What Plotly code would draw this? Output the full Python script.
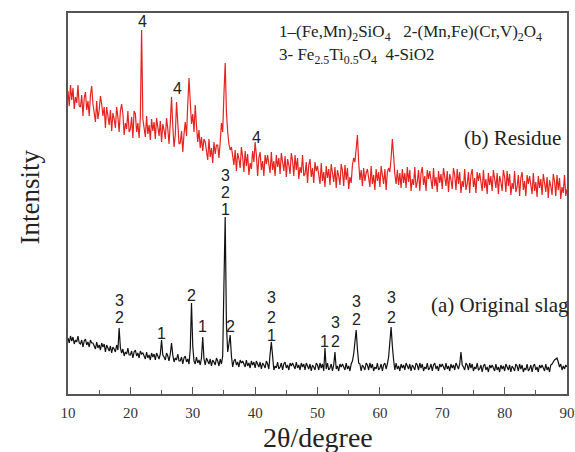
import numpy as np
import plotly.graph_objects as go

# 2theta sampling grid (degrees), 0.2 deg step from 10 to 90
two_theta = np.round(np.arange(10.0, 90.0001, 0.2), 1)

# (a) Original slag intensity (arbitrary units), one row = 2 degrees
original_slag = [
    56, 51, 58, 53, 57, 50, 54, 52, 58, 51,
    50, 54, 47, 53, 55, 49, 52, 47, 54, 51,
    51, 48, 45, 52, 46, 49, 44, 51, 47, 50,
    42, 49, 46, 43, 48, 41, 47, 45, 42, 49,
    44, 66, 46, 41, 45, 38, 42, 40, 46, 39,
    39, 43, 36, 42, 44, 38, 41, 36, 43, 40,
    41, 38, 35, 42, 36, 39, 34, 41, 37, 40,
    34, 41, 38, 35, 40, 54, 39, 37, 34, 41,
    38, 33, 40, 51, 39, 32, 36, 34, 40, 33,
    33, 37, 30, 36, 38, 32, 35, 30, 45, 91,
    48, 33, 30, 37, 31, 34, 29, 36, 57, 35,
    29, 36, 33, 30, 35, 28, 34, 32, 29, 36,
    33, 28, 35, 30, 38, 110, 177, 70, 42, 50,
    59, 38, 27, 33, 35, 29, 32, 27, 34, 31,
    33, 30, 27, 34, 28, 31, 26, 33, 29, 32,
    26, 33, 30, 27, 32, 25, 31, 29, 26, 33,
    30, 25, 40, 52, 38, 24, 28, 26, 32, 25,
    27, 31, 24, 30, 32, 26, 29, 24, 31, 28,
    31, 28, 25, 32, 26, 29, 24, 31, 27, 30,
    24, 31, 28, 25, 30, 23, 29, 27, 24, 31,
    29, 24, 31, 26, 30, 23, 46, 25, 31, 24,
    26, 30, 23, 29, 42, 25, 28, 23, 30, 27,
    30, 27, 24, 31, 25, 28, 23, 30, 33, 40,
    52, 64, 45, 31, 30, 23, 29, 27, 24, 31,
    29, 24, 31, 26, 30, 23, 27, 25, 31, 24,
    26, 30, 23, 29, 31, 25, 30, 37, 52, 67,
    48, 34, 24, 31, 25, 28, 23, 30, 26, 29,
    24, 31, 28, 25, 30, 23, 29, 27, 24, 31,
    29, 24, 31, 26, 30, 23, 27, 25, 31, 24,
    26, 30, 23, 29, 31, 25, 28, 23, 30, 27,
    30, 27, 24, 31, 25, 28, 23, 30, 26, 29,
    24, 31, 28, 25, 30, 42, 29, 27, 24, 31,
    29, 24, 31, 26, 30, 23, 27, 25, 31, 24,
    25, 29, 22, 28, 30, 24, 27, 22, 29, 26,
    29, 26, 23, 30, 24, 27, 22, 29, 25, 28,
    23, 30, 27, 24, 29, 22, 28, 26, 23, 30,
    28, 23, 30, 25, 29, 22, 26, 24, 30, 23,
    25, 29, 22, 28, 30, 24, 27, 22, 29, 26,
    29, 26, 23, 30, 24, 27, 22, 29, 30, 32,
    34, 35, 36, 32, 27, 30, 24, 28, 25, 29,
    27,
]

# (b) Residue intensity (arbitrary units, offset), one row = 2 degrees
residue = [
    303, 288, 309, 294, 306, 285, 297, 291, 309, 288,
    287, 299, 278, 296, 302, 284, 293, 278, 299, 308,
    290, 281, 272, 293, 275, 284, 298, 290, 278, 287,
    266, 287, 278, 269, 284, 263, 281, 275, 266, 287,
    277, 262, 283, 290, 280, 259, 271, 265, 283, 262,
    265, 277, 256, 283, 280, 262, 271, 256, 277, 364,
    275, 266, 257, 278, 260, 269, 254, 275, 263, 272,
    255, 276, 267, 258, 273, 252, 270, 264, 255, 276,
    265, 250, 271, 297, 268, 247, 259, 292, 271, 250,
    251, 263, 242, 260, 272, 258, 290, 316, 292, 270,
    280, 262, 289, 268, 252, 264, 246, 257, 243, 255,
    252, 243, 234, 255, 237, 246, 231, 252, 240, 249,
    249, 236, 252, 271, 262, 300, 331, 282, 262, 250,
    244, 247, 238, 229, 244, 223, 241, 235, 226, 247,
    237, 222, 243, 228, 240, 219, 231, 225, 243, 232,
    252, 239, 218, 236, 242, 224, 233, 218, 239, 230,
    239, 230, 221, 242, 224, 233, 218, 239, 227, 236,
    220, 241, 232, 223, 238, 217, 235, 229, 220, 241,
    233, 218, 239, 224, 236, 215, 227, 221, 239, 218,
    220, 232, 211, 229, 235, 217, 226, 211, 232, 223,
    228, 219, 210, 231, 213, 222, 207, 228, 216, 225,
    209, 230, 221, 212, 227, 206, 224, 218, 209, 230,
    223, 208, 229, 214, 226, 205, 217, 211, 229, 236,
    232, 245, 259, 232, 214, 224, 208, 226, 213, 221,
    225, 216, 207, 228, 210, 219, 204, 225, 213, 222,
    207, 228, 219, 210, 225, 204, 222, 226, 222, 236,
    255, 238, 220, 210, 224, 209, 221, 206, 225, 211,
    221, 206, 227, 212, 224, 203, 215, 209, 227, 206,
    212, 224, 203, 221, 227, 209, 218, 203, 224, 215,
    223, 214, 205, 226, 208, 217, 202, 223, 211, 220,
    205, 226, 217, 208, 223, 202, 220, 214, 205, 226,
    219, 204, 225, 210, 222, 201, 213, 207, 225, 204,
    210, 222, 201, 219, 225, 207, 216, 201, 222, 213,
    221, 212, 203, 224, 206, 215, 200, 221, 209, 218,
    203, 224, 215, 206, 221, 200, 218, 212, 203, 224,
    217, 202, 223, 208, 220, 199, 211, 205, 223, 202,
    207, 219, 198, 216, 222, 204, 213, 198, 219, 210,
    218, 209, 200, 221, 203, 212, 197, 218, 206, 215,
    199, 220, 211, 202, 217, 196, 214, 208, 199, 220,
    213, 198, 219, 204, 216, 195, 207, 201, 219, 198,
    205,
]

assert len(original_slag) == len(two_theta) == len(residue)

x_ticks = [10, 20, 30, 40, 50, 60, 70, 80, 90]

# Peak phase labels: (2theta, intensity position, text)
peak_labels = [
    (18.2, 94, "3"), (18.2, 77, "2"),
    (25.0, 61, "1"),
    (29.8, 99, "2"),
    (31.6, 68, "1"),
    (35.2, 219, "3"), (35.2, 202, "2"), (35.2, 185, "1"),
    (36.1, 68, "2"),
    (42.6, 97, "3"), (42.6, 77, "2"), (42.6, 59, "1"),
    (51.2, 53, "1"), (52.9, 53, "2"), (52.9, 72, "3"),
    (56.2, 75, "2"), (56.2, 93, "3"),
    (61.9, 77, "2"), (61.9, 97, "3"),
    (22.0, 373, "4"), (27.6, 306, "4"), (40.2, 257, "4"),
]

fig = go.Figure()
fig.add_trace(go.Scatter(x=two_theta, y=original_slag, mode="lines",
                         line=dict(color="#111111", width=1.2, simplify=False),
                         showlegend=False, hoverinfo="skip"))
fig.add_trace(go.Scatter(x=two_theta, y=residue, mode="lines",
                         line=dict(color="#e8231f", width=1.2, simplify=False),
                         showlegend=False, hoverinfo="skip"))

serif = "Liberation Serif, Times New Roman, serif"
sans = "Liberation Sans, Arial, sans-serif"

annotations = []
for xv, yv, t in peak_labels:
    annotations.append(dict(x=xv, y=yv, text=t, showarrow=False,
                            xanchor="center", yanchor="middle",
                            font=dict(family=sans, size=16, color="#222222")))

annotations += [
    dict(x=43.5, y=361, xanchor="left", yanchor="middle", showarrow=False,
         text="1–(Fe,Mn)<sub>2</sub>SiO<sub>4</sub>&nbsp;&nbsp;&nbsp;2-(Mn,Fe)(Cr,V)<sub>2</sub>O<sub>4</sub>",
         font=dict(family=serif, size=17, color="#222222")),
    dict(x=43.5, y=338, xanchor="left", yanchor="middle", showarrow=False,
         text="3- Fe<sub>2.5</sub>Ti<sub>0.5</sub>O<sub>4</sub>&nbsp;&nbsp;4-SiO2",
         font=dict(family=serif, size=17, color="#222222")),
    dict(x=90.0, y=256, xanchor="right", yanchor="middle", showarrow=False, xshift=-4,
         text="(b) Residue", font=dict(family=serif, size=21, color="#222222")),
    dict(x=90.0, y=89, xanchor="right", yanchor="middle", showarrow=False, xshift=4,
         text="(a) Original slag", font=dict(family=serif, size=21, color="#222222")),
    dict(x=0.5, y=-0.114, xref="paper", yref="paper", xanchor="center", yanchor="middle",
         showarrow=False, text="2θ/degree",
         font=dict(family=serif, size=28, color="#222222")),
    dict(x=-0.077, y=0.517, xref="paper", yref="paper", xanchor="center", yanchor="middle",
         showarrow=False, text="Intensity", textangle=-90,
         font=dict(family=serif, size=27, color="#222222")),
]

fig.update_layout(
    width=575, height=452,
    autosize=False,
    margin=dict(l=68, r=8, t=13, b=58, autoexpand=False),
    paper_bgcolor="white", plot_bgcolor="white",
    annotations=annotations,
    xaxis=dict(range=[10, 90], tickvals=x_ticks, ticktext=[str(v) for v in x_ticks],
               automargin=False,
               ticks="inside", ticklen=7, tickwidth=1.3, tickcolor="#555555",
               ticklabelstandoff=4,
               minor=dict(dtick=5, ticks="inside", ticklen=4, tickwidth=1.2, tickcolor="#555555"),
               showline=True, linecolor="#555555", linewidth=1.6, mirror=True,
               showgrid=False, zeroline=False,
               tickfont=dict(family=serif, size=15, color="#333333")),
    yaxis=dict(range=[0, 381], showticklabels=False, ticks="", automargin=False,
               showline=True, linecolor="#555555", linewidth=1.6, mirror=True,
               showgrid=False, zeroline=False),
)

fig.write_html(
    "out.html",
    config={"displayModeBar": False, "responsive": False},
    post_script="document.body.style.margin='0px';"
                "document.body.style.overflow='hidden';"
                "document.documentElement.style.overflow='hidden';",
)
